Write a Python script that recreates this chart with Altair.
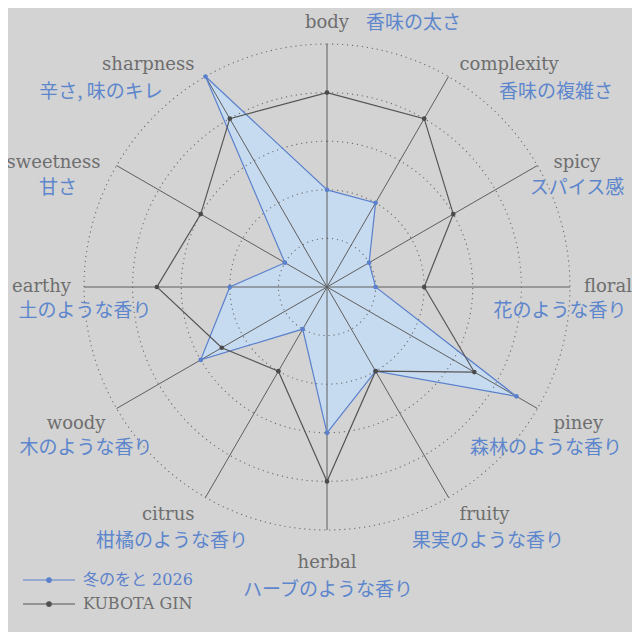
import math
import pandas as pd
import altair as alt

# ---------------- data ----------------
axes_en = ["body", "complexity", "spicy", "floral", "piney", "fruity",
           "herbal", "citrus", "woody", "earthy", "sweetness", "sharpness"]
axes_ja = ["香味の太さ", "香味の複雑さ", "スパイス感", "花のような香り", "森林のような香り",
           "果実のような香り", "ハーブのような香り", "柑橘のような香り", "木のような香り",
           "土のような香り", "甘さ", "辛さ, 味のキレ"]
fuyu_vals = [2, 2, 1, 1, 4.5, 2, 3, 1, 3, 2, 1, 5]
kubota_vals = [4, 4, 3, 2, 3.5, 2, 4, 2, 2.5, 3.5, 3, 4]
series_names = ["冬のをと 2026", "KUBOTA GIN"]
ring_levels = [1, 2, 3, 4, 5]

# ---------------- layout / style ----------------
W = H = 624
CX, CY = 319.0, 279.0          # centre in chart pixels
U = 48.6                        # pixels per unit
R_MAX = max(ring_levels)
xdom = [-CX / U, (W - CX) / U]
ydom = [-(H - CY) / U, CY / U]

BG = "#d3d3d3"
BLUE = "#5b80cc"
BLUE_FILL = "#c7dbf0"
DARK = "#555555"
SPOKE = "#5e5e5e"
TXT_GRAY = "#6e6e6e"
TXT_BLUE = "#5d86cd"
SERIF = "DejaVu Serif"
JP = "Noto Sans CJK JP"

# label placement (pixel nudges around the angular anchor)
R_LAB = 265.0
en_dx = [0, 0, -3, -8, -3, 0, 0, 0, 8, 9, 3, 0]
en_dy = [1, 7, 8, 0, 4, -1, 11, -1, 4, 0, 8, 7]
ja_dx = [39, 96.5, 20.5, -32, -10.5, 28.5, 1, -22.5, -11.5, 23, -39.5, -93.5]
ja_dy = [0, 27, 25, 24, 24, 26, 27, 26, 24, 24, 25, 27]

n = len(axes_en)

# ---------------- tables ----------------
rows = []
for s, vals in zip(series_names, [fuyu_vals, kubota_vals]):
    for i, (a, v) in enumerate(zip(axes_en, vals)):
        rows.append({"series": s, "axis": a, "idx": i, "value": v})
df = pd.DataFrame(rows)

ring_df = pd.DataFrame([{"level": lv, "deg": d} for lv in ring_levels for d in range(0, 360, 2)])
spoke_df = pd.DataFrame({"idx": list(range(n)), "r": [R_MAX] * n, "zero": [0.0] * n})

lab_rows = []
for i in range(n):
    th = 2 * math.pi * i / n
    s, c = math.sin(th), math.cos(th)
    ax_px = R_LAB * s + en_dx[i]
    ay_px = -R_LAB * c + en_dy[i]
    if s > 0.01:
        al = "left"
    elif s < -0.01:
        al = "right"
    else:
        al = "center"
    jx_px = R_LAB * s + ja_dx[i]
    jy_px = -R_LAB * c + en_dy[i] + ja_dy[i]
    lab_rows.append({
        "en": axes_en[i], "ja": axes_ja[i], "align": al,
        "jalign": "left" if i == 0 else "center",
        "ex": ax_px / U, "ey": -ay_px / U,
        "jx": jx_px / U, "jy": -jy_px / U,
    })
lab_df = pd.DataFrame(lab_rows)

xs = alt.Scale(domain=xdom, nice=False, zero=False)
ys = alt.Scale(domain=ydom, nice=False, zero=False)


def X(f):
    return alt.X(f, type="quantitative", scale=xs, axis=None)


def Y(f):
    return alt.Y(f, type="quantitative", scale=ys, axis=None)


polar = dict(ang="datum.idx * 2 * PI / %d" % n)

base = alt.Chart(df).transform_calculate(**polar).transform_calculate(
    px="datum.value * sin(datum.ang)", py="datum.value * cos(datum.ang)"
)

fill_layer = base.transform_filter(alt.datum.series == series_names[0]).mark_line(
    interpolate="linear-closed", fill=BLUE_FILL, fillOpacity=1, strokeOpacity=0
).encode(x=X("px"), y=Y("py"), order=alt.Order("idx:Q"))

rings = alt.Chart(ring_df).transform_calculate(
    a="datum.deg * PI / 180"
).transform_calculate(
    rx="datum.level * sin(datum.a)", ry="datum.level * cos(datum.a)"
).mark_line(
    interpolate="linear-closed", color="#6e6e6e", strokeWidth=1.1, strokeDash=[1.2, 3.8]
).encode(x=X("rx"), y=Y("ry"), detail="level:N", order=alt.Order("deg:Q"))

spokes = alt.Chart(spoke_df).transform_calculate(**polar).transform_calculate(
    sx="datum.r * sin(datum.ang)", sy="datum.r * cos(datum.ang)"
).mark_rule(color=SPOKE, strokeWidth=1).encode(
    x=X("zero"), y=Y("zero"), x2="sx:Q", y2="sy:Q"
)

color_scale = alt.Scale(domain=series_names, range=[BLUE, DARK])
# legend symbol: a line with a small dot in the middle (scaled by sqrt(size)/2 = 6.5)
LEG_PATH = "M-4,0H4M-0.35,0A0.35,0.35,0,1,1,0.35,0A0.35,0.35,0,1,1,-0.35,0Z"

lines = base.mark_line(interpolate="linear-closed", strokeWidth=1.2).encode(
    x=X("px"), y=Y("py"), order=alt.Order("idx:Q"),
    color=alt.Color("series:N", scale=color_scale, sort=series_names,
                    legend=alt.Legend(
                        title=None, orient="none", legendX=33, legendY=564, padding=0,
                        symbolType=LEG_PATH, symbolSize=169, symbolStrokeWidth=1.2,
                        labelFont=SERIF + ", " + JP, labelFontSize=16, labelOffset=26,
                        rowPadding=8,
                        labelColor={"expr": "datum.label == 'KUBOTA GIN' ? '%s' : '%s'" % (TXT_GRAY, BLUE)},
                    )),
)

points = base.mark_point(filled=True, size=22, opacity=1).encode(
    x=X("px"), y=Y("py"),
    fill=alt.Fill("series:N", scale=alt.Scale(domain=series_names, range=[BLUE, "#4a4a4a"]), legend=None),
)

text_layers = []
for al in ["left", "center", "right"]:
    text_layers.append(
        alt.Chart(lab_df).transform_filter(alt.datum.align == al).mark_text(
            align=al, baseline="middle", font=SERIF, fontSize=18, color=TXT_GRAY
        ).encode(x=X("ex"), y=Y("ey"), text="en:N")
    )
for al in ["left", "center"]:
    text_layers.append(
        alt.Chart(lab_df).transform_filter(alt.datum.jalign == al).mark_text(
            align=al, baseline="middle", font=JP, fontSize=19, color=TXT_BLUE
        ).encode(x=X("jx"), y=Y("jy"), text="ja:N")
    )

chart = alt.layer(fill_layer, rings, spokes, lines, points, *text_layers).properties(
    width=W, height=H, padding=0, autosize="none", background=BG
).configure_view(strokeWidth=0)

chart.save("out.html", embed_options={"renderer": "svg", "actions": False})
